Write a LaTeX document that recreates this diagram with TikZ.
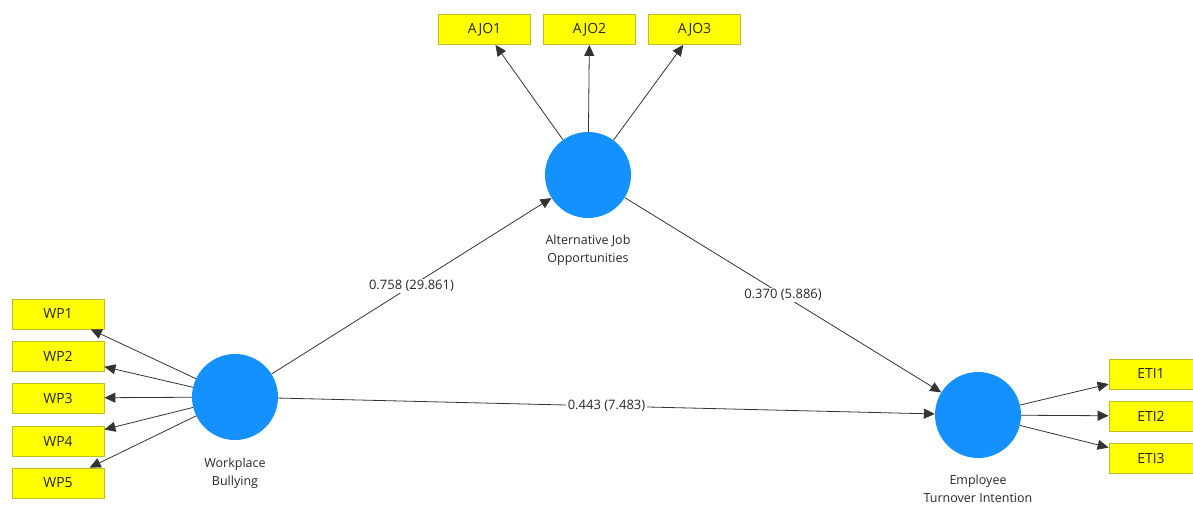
\documentclass[tikz,border=0pt]{standalone}
\usepackage{fontspec}
\setmainfont{Open Sans}
\usetikzlibrary{arrows.meta}
\definecolor{lvblue}{RGB}{20,145,255}
\definecolor{boxyellow}{RGB}{255,255,0}
\definecolor{boxborder}{RGB}{190,190,40}
\definecolor{txt}{RGB}{40,40,40}
\tikzset{
  latent/.style={circle,fill=lvblue,draw=none,minimum size=86pt,inner sep=0pt},
  indicator/.style={rectangle,fill=boxyellow,draw=boxborder,line width=0.8pt,minimum width=92pt,minimum height=30pt,inner sep=0pt,font=\fontsize{14}{16}\selectfont,text=txt},
  lvlabel/.style={align=center,font=\fontsize{12.5}{18}\selectfont,text=txt},
  arr/.style={-{Triangle[width=10pt,length=11pt]},line width=0.8pt,draw=black!80},
  coef/.style={fill=white,inner sep=1.5pt,font=\fontsize{13}{15}\selectfont,text=txt}
}
\begin{document}
\begin{tikzpicture}[x=1pt,y=-1pt]
\useasboundingbox (0,0) rectangle (1193,505);
% latent variables
\node[latent] (aj) at (588,175) {};
\node[latent] (wb) at (235,397) {};
\node[latent] (eti) at (978,415) {};
\node[lvlabel] (ajl) at (588,250) {Alternative Job\\Opportunities};
\node[lvlabel] (wbl) at (235,473) {Workplace\\Bullying};
\node[lvlabel] (etil) at (978,489) {Employee\\Turnover Intention};
% indicators
\node[indicator] (ajo1) at (484.5,29.5) {AJO1};
\node[indicator] (ajo2) at (589.5,29.5) {AJO2};
\node[indicator] (ajo3) at (694.5,29.5) {AJO3};
\node[indicator] (wp1) at (58,314) {WP1};
\node[indicator] (wp2) at (58,356) {WP2};
\node[indicator] (wp3) at (58,398) {WP3};
\node[indicator] (wp4) at (58,441) {WP4};
\node[indicator] (wp5) at (58,483) {WP5};
\node[indicator,minimum width=84pt] (eti1) at (1151,374) {ETI1};
\node[indicator,minimum width=84pt] (eti2) at (1151,416) {ETI2};
\node[indicator,minimum width=84pt] (eti3) at (1151,458) {ETI3};
% outer model
\foreach \b in {ajo1,ajo2,ajo3} \draw[arr] (aj) -- (\b);
\foreach \b in {wp1,wp2,wp3,wp4,wp5} \draw[arr] (wb) -- (\b);
\foreach \b in {eti1,eti2,eti3} \draw[arr] (eti) -- (\b);
% inner model
\draw[arr] (wb) -- node[coef] {0.758 (29.861)} (aj);
\draw[arr] (aj) -- node[coef] {0.370 (5.886)} (eti);
\draw[arr] (wb) -- node[coef] {0.443 (7.483)} (eti);
\end{tikzpicture}
\end{document}
